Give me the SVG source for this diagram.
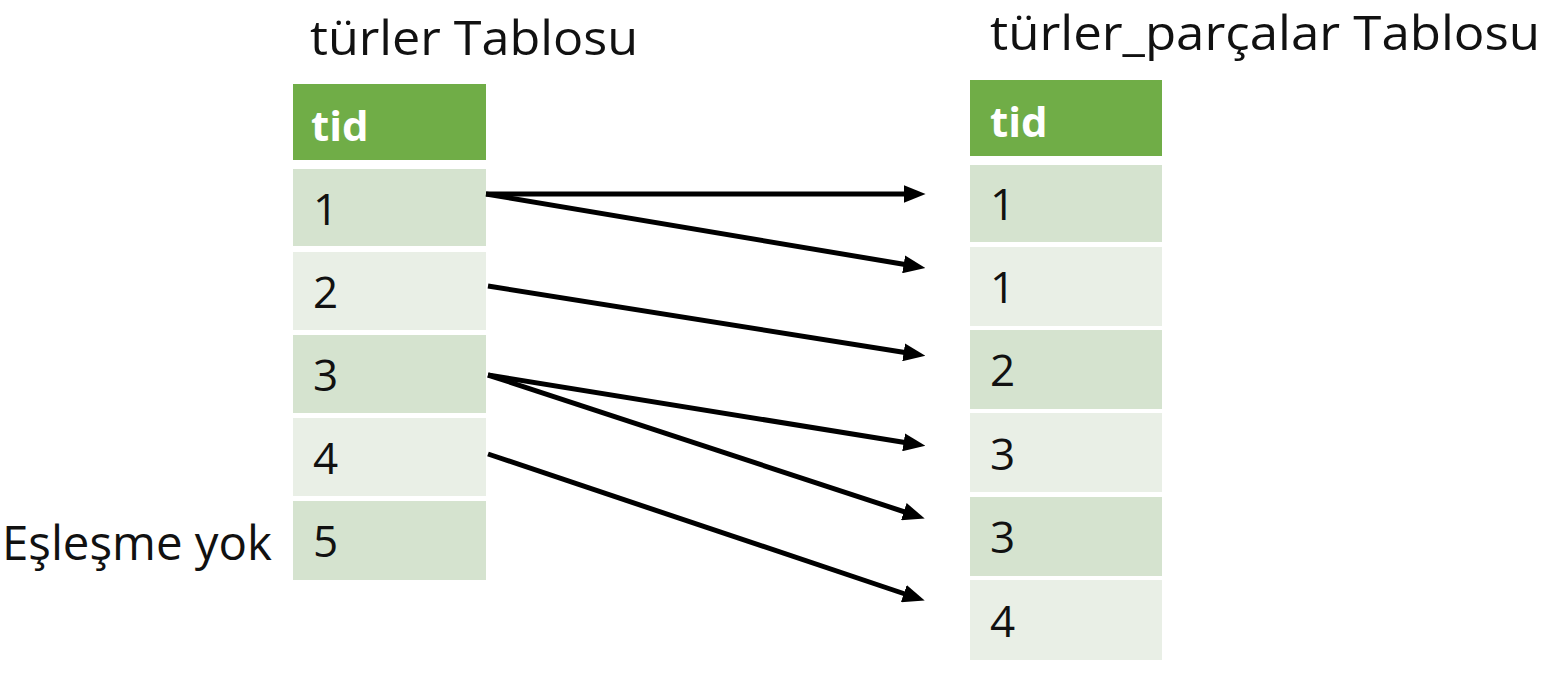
<svg xmlns="http://www.w3.org/2000/svg" width="1552" height="688" viewBox="0 0 1552 688">
<style>
.title{font-family:"Open Sans","Noto Sans",sans-serif;font-size:48px;fill:#111}
.hdr{fill:#70AD47}
.hdrt{font-family:"Open Sans","Noto Sans",sans-serif;font-size:42px;font-weight:bold;fill:#fff}
.dark{fill:#D5E3CF}
.light{fill:#E9EFE6}
.cell{font-family:"Open Sans","Noto Sans",sans-serif;font-size:44px;fill:#111}
.conn line{stroke:#000;stroke-width:5;marker-end:url(#ah)}
</style>
<defs>
<marker id="ah" viewBox="0 0 10 10" refX="2" refY="5" markerWidth="4.4" markerHeight="3.6" orient="auto" markerUnits="strokeWidth" preserveAspectRatio="none">
<path d="M0,0 L10,5 L0,10 z" fill="#000"/>
</marker>
</defs>
<rect width="1552" height="688" fill="#fff"/>
<g id="left-table">
<text class="title" x="310" y="55" textLength="328" lengthAdjust="spacingAndGlyphs">türler Tablosu</text>
<rect class="hdr" x="293" y="84" width="193" height="76"/>
<text class="hdrt" x="311" y="141">tid</text>
<g id="l1"><rect class="dark" x="293" y="169" width="193" height="77"/><text class="cell" x="313" y="225">1</text></g>
<g id="l2"><rect class="light" x="293" y="252" width="193" height="78"/><text class="cell" x="313" y="308">2</text></g>
<g id="l3"><rect class="dark" x="293" y="335" width="193" height="78"/><text class="cell" x="313" y="391">3</text></g>
<g id="l4"><rect class="light" x="293" y="418" width="193" height="78"/><text class="cell" x="313" y="474">4</text></g>
<g id="l5"><rect class="dark" x="293" y="501" width="193" height="79"/><text class="cell" x="313" y="557">5</text></g>
</g>
<g id="no-match"><text class="title" x="2" y="560" textLength="270" lengthAdjust="spacingAndGlyphs">Eşleşme yok</text></g>
<g id="right-table">
<text class="title" x="990" y="50" textLength="550" lengthAdjust="spacingAndGlyphs">türler_parçalar Tablosu</text>
<rect class="hdr" x="970" y="80" width="192" height="76"/>
<text class="hdrt" x="990" y="137">tid</text>
<g id="r1"><rect class="dark" x="970" y="165" width="192" height="77"/><text class="cell" x="990" y="220">1</text></g>
<g id="r2"><rect class="light" x="970" y="247" width="192" height="79"/><text class="cell" x="990" y="303">1</text></g>
<g id="r3"><rect class="dark" x="970" y="330" width="192" height="79"/><text class="cell" x="990" y="386">2</text></g>
<g id="r4"><rect class="light" x="970" y="413" width="192" height="79"/><text class="cell" x="990" y="470">3</text></g>
<g id="r5"><rect class="dark" x="970" y="497" width="192" height="79"/><text class="cell" x="990" y="553">3</text></g>
<g id="r6"><rect class="light" x="970" y="580" width="192" height="80"/><text class="cell" x="990" y="637">4</text></g>
</g>
<g id="connectors" class="conn">
<line x1="486" y1="194" x2="908" y2="194"/>
<line x1="486" y1="194" x2="908" y2="265"/>
<line x1="488" y1="286" x2="908" y2="353"/>
<line x1="488" y1="375" x2="908" y2="443"/>
<line x1="488" y1="375" x2="908" y2="513"/>
<line x1="488" y1="454" x2="908" y2="595"/>
</g>
</svg>
